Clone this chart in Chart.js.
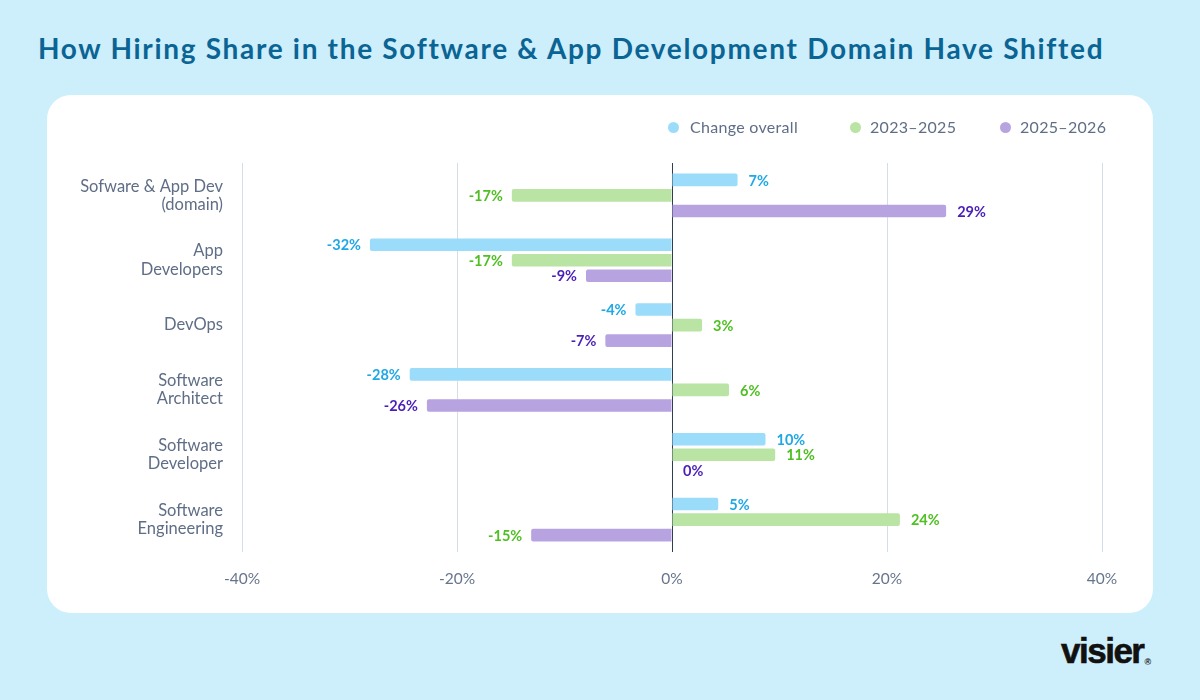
<!DOCTYPE html>
<html>
<head>
<meta charset="utf-8">
<script src="https://cdn.jsdelivr.net/npm/chart.js@4"></script>
<style>
  html, body { margin:0; padding:0; }
  body { width:1200px; height:700px; background:#cdeefb; position:relative; overflow:hidden; font-family:"Lato", "Open Sans", sans-serif; }
  #title { position:absolute; left:38px; top:30px; margin:0; font-size:28px; font-weight:700; color:#0a6494; white-space:nowrap; line-height:36px; }
  #card { position:absolute; left:47px; top:95px; width:1106px; height:518px; background:#ffffff; border-radius:24px; overflow:hidden; }
  #chart { position:absolute; left:0; top:0; }
  .leg { position:absolute; top:117px; font-size:16px; letter-spacing:0.3px; color:#5f6e86; white-space:nowrap; line-height:20px; }
  .dot { position:absolute; width:11px; height:11px; border-radius:50%; top:122px; }
  #logo { position:absolute; left:1061px; top:631px; font-family:"Liberation Sans", Arial, sans-serif; font-weight:700; font-size:35px; letter-spacing:-1.5px; color:#111; line-height:40px; -webkit-text-stroke:0.6px #111; }
  #logo sup { font-size:9px; letter-spacing:0; vertical-align:-2px; margin-left:1px; -webkit-text-stroke:0; }
</style>
</head>
<body>
<h1 id="title">How Hiring Share in the Software &amp; App Development Domain Have Shifted</h1>
<div id="card"><canvas id="chart" width="1106" height="518"></canvas></div>
<div id="legend"></div>
<div id="logo">visier<sup>®</sup></div>
<script>
// ---- data ----
const categories = [["Sofware & App Dev", "(domain)"], ["App", "Developers"], ["DevOps"], ["Software", "Architect"], ["Software", "Developer"], ["Software", "Engineering"]];
const seriesNames = ["Change overall", "2023–2025", "2025–2026"];
const changeOverall = [6.1, -28.1, -3.4, -24.4, 8.7, 4.3];
const change2023to2025 = [-14.9, -14.9, 2.8, 5.3, 9.6, 21.2];
const change2025to2026 = [25.5, -8.0, -6.2, -22.8, 0, -13.1];
const changeOverallLabels = ["7%", "-32%", "-4%", "-28%", "10%", "5%"];
const change2023to2025Labels = ["-17%", "-17%", "3%", "6%", "11%", "24%"];
const change2025to2026Labels = ["29%", "-9%", "-7%", "-26%", "0%", "-15%"];
const xTickValues = [-40, -20, 0, 20, 40];

// ---- styles ----
const barColors = ["#9bdcfb", "#b9e4a3", "#b8a3e1"];
const labelColors = ["#1ea8e6", "#4fbf22", "#4a1fb8"];
const labelColorOverrides = { "2-5": "#4fbf22" };
const legendPos = [{dot:668, text:690}, {dot:850, text:870}, {dot:1000, text:1020}];

// fit the title to the reference width
const titleEl = document.getElementById('title');
const titleTarget = 1065;
const natural = titleEl.getBoundingClientRect().width;
const nChars = titleEl.textContent.length;
titleEl.style.letterSpacing = ((titleTarget - natural) / nChars) + 'px';

const legend = document.getElementById('legend');
seriesNames.forEach((n, i) => {
  const d = document.createElement('div'); d.className = 'dot';
  d.style.left = legendPos[i].dot + 'px'; d.style.background = barColors[i];
  const t = document.createElement('div'); t.className = 'leg';
  t.style.left = legendPos[i].text + 'px'; t.textContent = n;
  legend.appendChild(d); legend.appendChild(t);
});

const valueSets = [changeOverall, change2023to2025, change2025to2026];
const labelSets = [changeOverallLabels, change2023to2025Labels, change2025to2026Labels];

const dataLabelPlugin = {
  id: 'dataLabels',
  afterDatasetsDraw(chart) {
    const ctx = chart.ctx;
    ctx.save();
    ctx.font = '700 14.5px Lato, "Open Sans", sans-serif';
    ctx.textBaseline = 'middle';
    chart.data.datasets.forEach((ds, di) => {
      const meta = chart.getDatasetMeta(di);
      meta.data.forEach((el, i) => {
        const v = ds.data[i];
        const txt = labelSets[di][i];
        ctx.fillStyle = labelColorOverrides[di + '-' + i] || labelColors[di];
        if (v >= 0) { ctx.textAlign = 'left'; ctx.fillText(txt, el.x + 11, el.y + 1); }
        else { ctx.textAlign = 'right'; ctx.fillText(txt, el.x - 9, el.y + 1); }
      });
    });
    ctx.restore();
  }
};

new Chart(document.getElementById('chart'), {
  type: 'bar',
  data: {
    labels: categories,
    datasets: seriesNames.map((n, i) => ({
      label: n,
      data: valueSets[i],
      backgroundColor: barColors[i],
      borderRadius: 2,
      borderSkipped: 'start',
      categoryPercentage: 0.72,
      barPercentage: 0.81
    }))
  },
  options: {
    indexAxis: 'y',
    responsive: false,
    animation: false,
    devicePixelRatio: 1,
    layout: { padding: { top: 68, right: 51, left: 0, bottom: 0 } },
    plugins: { legend: { display: false }, tooltip: { enabled: false }, title: { display: false } },
    scales: {
      x: {
        min: -40, max: 40,
        afterBuildTicks(scale) { scale.ticks = xTickValues.map(v => ({ value: v })); },
        afterFit(scale) { scale.height = 61; },
        grid: {
          drawTicks: false,
          color: (c) => (c.tick && c.tick.value === 0) ? '#2f3d55' : '#d3dee8',
          lineWidth: 1
        },
        border: { display: false },
        ticks: {
          padding: 18,
          color: '#66758c',
          font: { size: 15.5, family: 'Lato, "Open Sans", sans-serif' },
          callback: (v) => v + '%'
        }
      },
      y: {
        afterFit(scale) { scale.width = 195; },
        grid: { display: false, drawTicks: false },
        border: { display: false },
        ticks: {
          padding: 19,
          color: '#5f6e86',
          font: { size: 16.5, family: 'Lato, "Open Sans", sans-serif', lineHeight: 1.12 }
        }
      }
    }
  },
  plugins: [dataLabelPlugin]
});
</script>
</body>
</html>
